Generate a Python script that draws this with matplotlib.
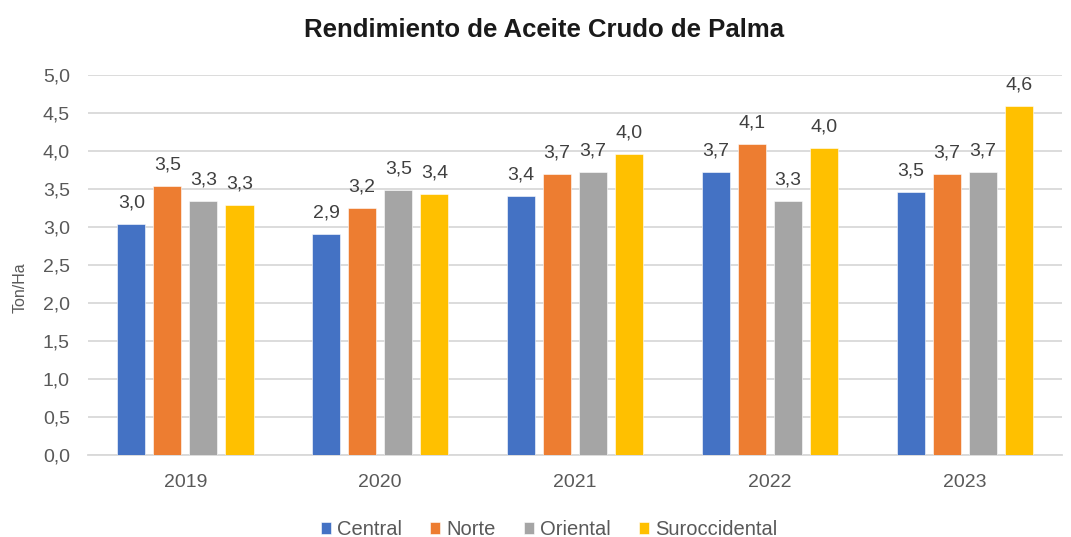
import matplotlib

matplotlib.use("Agg")
import matplotlib.pyplot as plt

years = ["2019", "2020", "2021", "2022", "2023"]
central = [3.04, 2.90, 3.40, 3.72, 3.46]
norte = [3.54, 3.24, 3.69, 4.09, 3.69]
oriental = [3.34, 3.48, 3.72, 3.34, 3.72]
suroccidental = [3.28, 3.43, 3.95, 4.04, 4.59]

series = [
    ("Central", central, "#4472C4"),
    ("Norte", norte, "#ED7D31"),
    ("Oriental", oriental, "#A5A5A5"),
    ("Suroccidental", suroccidental, "#FFC000"),
]

plt.rcParams["font.family"] = ["Liberation Sans", "DejaVu Sans"]

TXT = "#595959"
FS = 14

fig = plt.figure(figsize=(10.71, 5.37), dpi=100)
ax = fig.add_axes([0.0822, 0.1533, 0.9094, 0.7077])

w = 0.144
step = 0.185
for i, (name, vals, col) in enumerate(series):
    off = (i - 1.5) * step
    xs = [k + off for k in range(len(years))]
    bars = ax.bar(xs, vals, w, color=col, label=name, zorder=3,
                  edgecolor="white", linewidth=0.4)
    for r, v in zip(bars, vals):
        ax.annotate(f"{v:.1f}".replace(".", ","),
                    (r.get_x() + r.get_width() / 2, v),
                    xytext=(0, 9), textcoords="offset points",
                    ha="center", va="bottom", fontsize=FS, color="#404040")

ax.set_xlim(-0.5, len(years) - 0.5)
ax.set_ylim(0, 5.0)
ax.set_yticks([i * 0.5 for i in range(11)])
ax.set_yticklabels([f"{i * 0.5:.1f}".replace(".", ",") for i in range(11)])
ax.set_xticks(range(len(years)))
ax.set_xticklabels(years)
ax.tick_params(axis="both", length=0, labelsize=FS, colors=TXT)
ax.tick_params(axis="x", pad=14)
ax.tick_params(axis="y", pad=13)
ax.yaxis.grid(True, color="#D9D9D9", linewidth=1.3, zorder=0)
for s in ["top", "right", "left"]:
    ax.spines[s].set_visible(False)
ax.spines["bottom"].set_color("#D9D9D9")
ax.spines["bottom"].set_linewidth(1.3)

ax.set_ylabel("Ton/Ha", fontsize=11.5, color=TXT)
ax.yaxis.set_label_coords(-0.062, 0.44)

fig.text(0.508, 0.945, "Rendimiento de Aceite Crudo de Palma", fontsize=18.5,
         fontweight="bold", color="#1a1a1a", ha="center", va="center")

ax.legend(loc="center", bbox_to_anchor=(0.473, -0.197), ncol=4,
          frameon=False, fontsize=14.5, handlelength=0.5, handleheight=0.6,
          handletextpad=0.3, columnspacing=1.4, labelcolor=TXT)

fig.savefig("out.png", dpi=100)
